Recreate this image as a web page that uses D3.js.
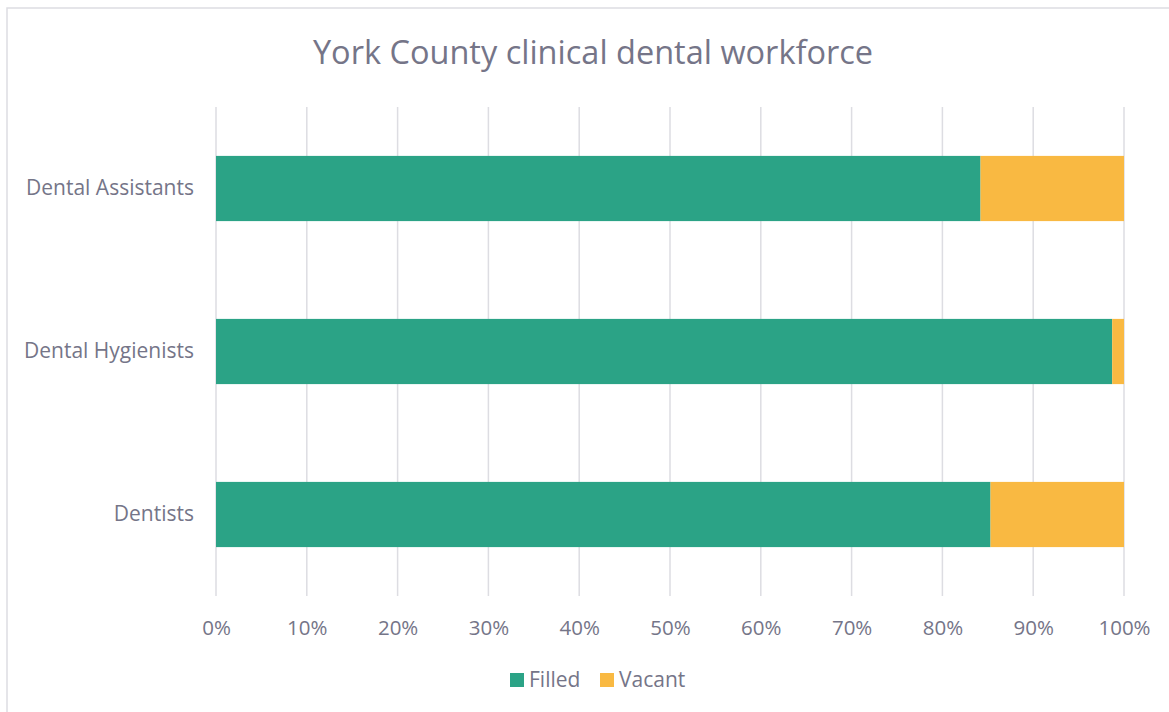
<!DOCTYPE html>
<html>
<head>
<meta charset="utf-8">
<script src="https://d3js.org/d3.v7.min.js"></script>
<style>
  html, body { margin: 0; padding: 0; background: #fff; }
  svg { display: block; }
  text { font-family: "Open Sans", "Noto Sans", sans-serif; fill: #757588; }
</style>
</head>
<body>
<script>
const categories = ["Dental Assistants", "Dental Hygienists", "Dentists"];
const seriesNames = ["Filled", "Vacant"];
const filled = [84.2, 98.7, 85.3];
const vacant = [15.8, 1.3, 14.7];
const tickValues = [0, 10, 20, 30, 40, 50, 60, 70, 80, 90, 100];
const title = "York County clinical dental workforce";
const colors = ["#2BA386", "#F9B942"];

const W = 1169, H = 712;
const svg = d3.select("body").append("svg").attr("width", W).attr("height", H);

// frame
svg.append("rect").attr("x", 7).attr("y", 8).attr("width", W + 10).attr("height", H + 10)
  .attr("fill", "none").attr("stroke", "#DDDDE2").attr("stroke-width", 1.5);

const x = d3.scaleLinear().domain([0, 100]).range([216, 1124]);
const y = d3.scaleBand().domain(categories).range([107, 596]).paddingInner(0.6).paddingOuter(0.3);

// gridlines
svg.append("g").selectAll("line").data(tickValues).join("line")
  .attr("x1", d => x(d)).attr("x2", d => x(d))
  .attr("y1", 107).attr("y2", 596)
  .attr("stroke", "#DDDDE2").attr("stroke-width", 1.5);

// title
svg.append("text").attr("x", 593).attr("y", 64).attr("text-anchor", "middle")
  .style("font-size", "32.5px").text(title);

// bars
const data = categories.map((c, i) => ({ cat: c, Filled: filled[i], Vacant: vacant[i] }));
const stacked = d3.stack().keys(seriesNames)(data);
svg.append("g").selectAll("g").data(stacked).join("g")
  .attr("fill", (d, i) => colors[i])
  .selectAll("rect").data(d => d).join("rect")
  .attr("x", d => x(d[0]))
  .attr("width", d => x(d[1]) - x(d[0]))
  .attr("y", d => y(d.data.cat))
  .attr("height", y.bandwidth());

// x axis labels
const xAxis = d3.axisBottom(x).tickValues(tickValues).tickFormat(d => d + "%").tickSize(0).tickPadding(0);
const gx = svg.append("g").attr("transform", "translate(0,620)").call(xAxis);
gx.select(".domain").remove();
gx.selectAll("text").style("font-size", "20.5px").attr("dy", "0.71em").attr("fill", null);

// y axis labels
const yAxis = d3.axisLeft(y).tickSize(0).tickPadding(22);
const gy = svg.append("g").attr("transform", "translate(216,0)").call(yAxis);
gy.select(".domain").remove();
gy.selectAll("text").style("font-size", "21px").attr("fill", null);

// legend
const legend = svg.append("g");
const legendItems = [{ name: seriesNames[0], x: 510 }, { name: seriesNames[1], x: 600 }];
legendItems.forEach((it, i) => {
  legend.append("rect").attr("x", it.x).attr("y", 673).attr("width", 14).attr("height", 14).attr("fill", colors[i]);
  legend.append("text").attr("x", it.x + 19).attr("y", 687).style("font-size", "21px").text(it.name);
});
</script>
</body>
</html>
